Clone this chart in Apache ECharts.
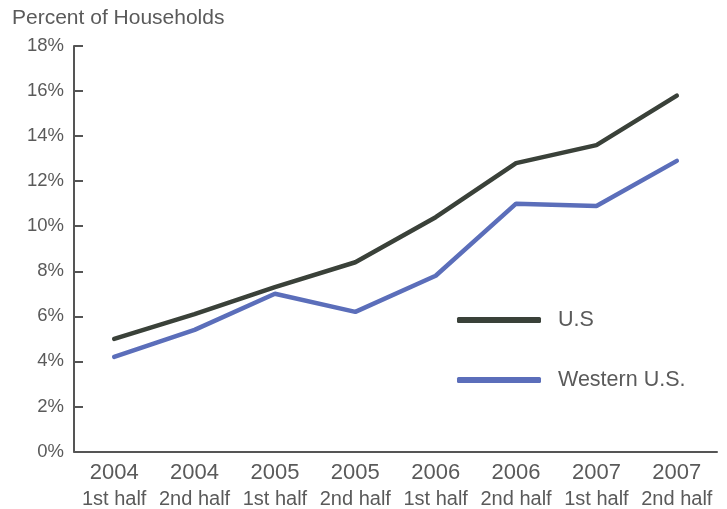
<!DOCTYPE html>
<html>
<head>
<meta charset="utf-8">
<script src="https://cdn.jsdelivr.net/npm/echarts@6/dist/echarts.min.js"></script>
<style>
html,body{margin:0;padding:0;background:#fff;}
#main{width:727px;height:509px;}
</style>
</head>
<body>
<div id="main"></div>
<script>
// categories
var years = ['2004','2004','2005','2005','2006','2006','2007','2007'];
var halves = ['1st half','2nd half','1st half','2nd half','1st half','2nd half','1st half','2nd half'];
// values, percent of households
var usData = [5.0, 6.1, 7.3, 8.4, 10.4, 12.8, 13.6, 15.8];
var westData = [4.2, 5.4, 7.0, 6.2, 7.8, 11.0, 10.9, 12.9];

var cats = years.map(function(y, i){ return y + '|' + halves[i]; });
var txt = '#5a5a5a';
var font = '"Liberation Sans", Arial, sans-serif';
var usColor = '#3a4139';
var westColor = '#5b6eba';

var myChart = echarts.init(document.getElementById('main'));
var legendText = {color: txt, fontSize: 21.5, fontFamily: font, lineHeight: 24, padding: [0,0,0,12]};
var option = {
	animation: false,
	title: {
		text: 'Percent of Households',
		left: 7, top: 3,
		textStyle: {color: txt, fontSize: 21, fontWeight: 'normal', fontFamily: font}
	},
	grid: {left: 74, right: 10, top: 46, bottom: 56},
	legend: [
		{
			left: 452, top: 303,
			itemWidth: 84, itemHeight: 6,
			icon: 'roundRect',
			data: [{name: 'U.S', itemStyle: {color: usColor}}],
			textStyle: legendText,
			selectedMode: false
		},
		{
			left: 452, top: 363,
			itemWidth: 84, itemHeight: 6,
			icon: 'roundRect',
			data: [{name: 'Western U.S.', itemStyle: {color: westColor}}],
			textStyle: legendText,
			selectedMode: false
		}
	],
	xAxis: {
		type: 'category',
		data: cats,
		boundaryGap: true,
		axisLine: {lineStyle: {color: '#555', width: 2}},
		axisTick: {inside: true, length: 7, lineStyle: {color: '#555', width: 2}},
		axisLabel: {
			margin: 7,
			formatter: function(v){ var p = v.split('|'); return '{a|' + p[0] + '}\n{b|' + p[1] + '}'; },
			rich: {
				a: {fontSize: 22, color: txt, fontFamily: font, lineHeight: 28},
				b: {fontSize: 20, color: txt, fontFamily: font, lineHeight: 25}
			}
		}
	},
	yAxis: {
		type: 'value',
		min: 0, max: 18, interval: 2,
		axisLine: {show: true, lineStyle: {color: '#555', width: 2}},
		axisTick: {show: true, inside: true, length: 9, lineStyle: {color: '#555', width: 2}},
		splitLine: {show: false},
		axisLabel: {formatter: '{value}%', color: txt, fontSize: 18.5, fontFamily: font, margin: 10}
	},
	series: [
		{
			name: 'U.S', type: 'line', data: usData,
			symbol: 'none',
			lineStyle: {color: usColor, width: 4.5, cap: 'round'},
			itemStyle: {color: usColor}
		},
		{
			name: 'Western U.S.', type: 'line', data: westData,
			symbol: 'none',
			lineStyle: {color: westColor, width: 4.5, cap: 'round'},
			itemStyle: {color: westColor}
		}
	]
};
myChart.setOption(option);
</script>
</body>
</html>
